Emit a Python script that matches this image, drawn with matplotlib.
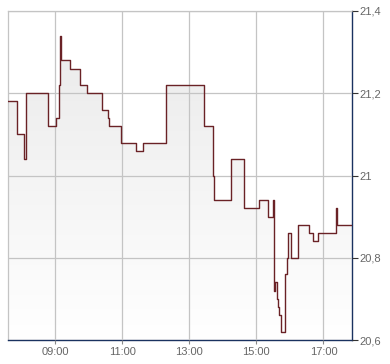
import matplotlib
matplotlib.use("Agg")
import matplotlib.pyplot as plt
import numpy as np
from matplotlib.colors import LinearSegmentedColormap

# ---- data ----
times = ["07:36", "07:52", "08:04", "08:08", "08:47", "09:02", "09:07", "09:09",
         "09:11", "09:27", "09:45", "09:57", "10:24", "10:35", "10:37", "10:58",
         "11:25", "11:38", "12:19", "13:27", "13:43", "13:45", "14:15", "14:38",
         "15:05", "15:21", "15:30", "15:31", "15:32", "15:34", "15:37", "15:39",
         "15:41", "15:44", "15:51", "15:54", "15:57", "16:02", "16:15", "16:35",
         "16:42", "16:51", "17:23", "17:24", "17:51"]
prices = [21.18, 21.10, 21.04, 21.20, 21.12, 21.14, 21.22, 21.34,
          21.28, 21.26, 21.22, 21.20, 21.16, 21.14, 21.12, 21.08,
          21.06, 21.08, 21.22, 21.12, 21.00, 20.94, 21.04, 20.92,
          20.94, 20.90, 20.94, 20.84, 20.72, 20.74, 20.70, 20.68,
          20.66, 20.62, 20.76, 20.80, 20.86, 20.80, 20.88, 20.86,
          20.84, 20.86, 20.92, 20.88, 20.88]
x_ticks = [9, 11, 13, 15, 17]
x_tick_labels = ["09:00", "11:00", "13:00", "15:00", "17:00"]
y_ticks = [20.6, 20.8, 21.0, 21.2, 21.4]
y_tick_labels = ["20,6", "20,8", "21", "21,2", "21,4"]

def to_hours(s):
    h, m = s.split(":")
    return int(h) + int(m) / 60.0

t = np.array([to_hours(s) for s in times])
p = np.array(prices)

plt.rcParams['font.family'] = ['Liberation Sans', 'DejaVu Sans']

fig = plt.figure(figsize=(3.9, 3.64), dpi=100)
ax = fig.add_axes([8 / 390, 24 / 364, 344 / 390, 329 / 364])

xmin, xmax = 7.6, 17.85
ymin, ymax = 20.6, 21.4
ax.set_xlim(xmin, xmax)
ax.set_ylim(ymin, ymax)

# gradient fill under step line
cmap = LinearSegmentedColormap.from_list("g", ["#ffffff", "#e9e9e9"])
grad = np.linspace(0, 1, 256).reshape(-1, 1)
im = ax.imshow(grad, extent=[xmin, xmax, ymin, ymax], origin="lower",
               aspect="auto", cmap=cmap, zorder=1)
poly = ax.fill_between(t, p, ymin, step="post", facecolor="none",
                       edgecolor="none", zorder=1)
path = poly.get_paths()[0]
im.set_clip_path(path, transform=ax.transData)

ax.grid(True, color="#c4c4c4", linewidth=0.9, zorder=2)
ax.set_axisbelow(False)
for gl in ax.get_xgridlines() + ax.get_ygridlines():
    gl.set_zorder(2)

ax.step(t, p, where="post", color="#6a2226", linewidth=1.0, zorder=3)

ax.set_xticks(x_ticks)
ax.set_xticklabels(x_tick_labels)
ax.set_yticks(y_ticks)
ax.set_yticklabels(y_tick_labels)

ax.yaxis.tick_right()
ax.tick_params(axis="y", direction="out", length=4, width=0.8, color="#333333",
               labelsize=8, labelcolor="#666666", pad=1)
ax.tick_params(axis="x", direction="out", length=3, width=0.8, color="#888888",
               labelsize=8, labelcolor="#666666", pad=2)

for side in ["left", "top"]:
    ax.spines[side].set_color("#c4c4c4")
    ax.spines[side].set_linewidth(0.9)
for side in ["right", "bottom"]:
    ax.spines[side].set_color("#1a3260")
    ax.spines[side].set_linewidth(1.0)

fig.savefig("out.png", dpi=100, facecolor="white")
